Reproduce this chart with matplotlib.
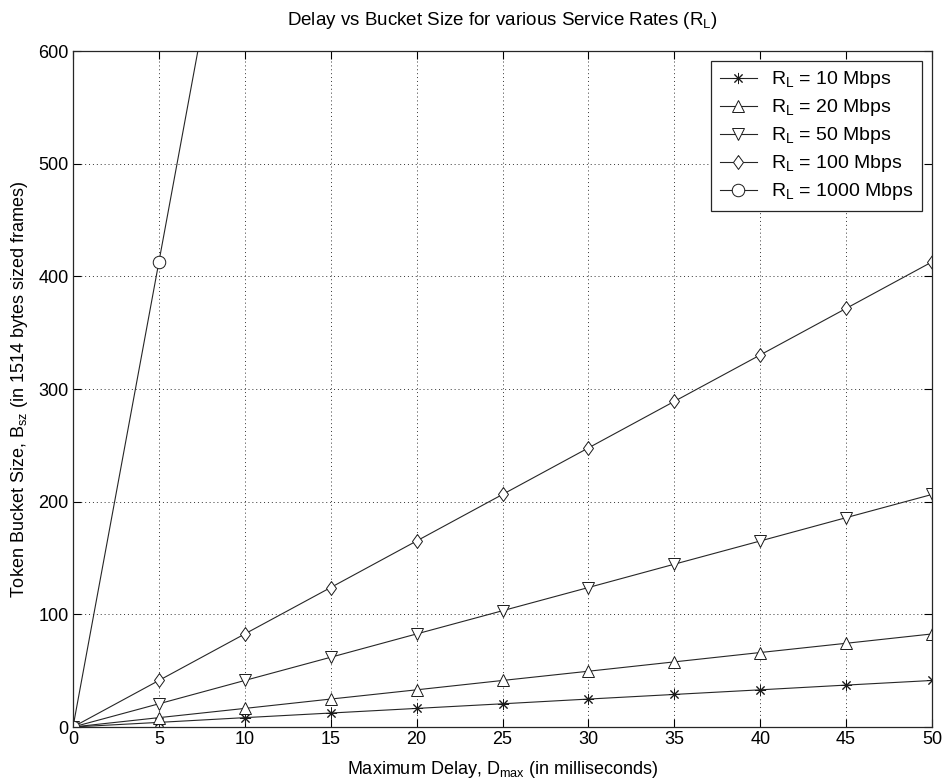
import matplotlib
matplotlib.use("Agg")
import matplotlib.pyplot as plt

plt.rcParams['font.family'] = ['Liberation Sans', 'DejaVu Sans']
plt.rcParams['mathtext.fontset'] = 'custom'
plt.rcParams['mathtext.rm'] = 'Liberation Sans'

delay_ms = [0, 5, 10, 15, 20, 25, 30, 35, 40, 45, 50]
r10 = [0, 4.1, 8.3, 12.4, 16.5, 20.6, 24.8, 28.9, 33.0, 37.2, 41.3]
r20 = [0, 8.3, 16.5, 24.8, 33.0, 41.3, 49.5, 57.8, 66.1, 74.3, 82.6]
r50 = [0, 20.6, 41.3, 61.9, 82.6, 103.2, 123.8, 144.5, 165.1, 185.8, 206.4]
r100 = [0, 41.3, 82.6, 123.8, 165.1, 206.4, 247.7, 289.0, 330.2, 371.5, 412.8]
r1000 = [0, 412.8, 825.6, 1238.4, 1651.2, 2064.0, 2476.8, 2889.6, 3302.4, 3715.2, 4128.0]
labels = ['$\\mathregular{R_L}$ = 10 Mbps', '$\\mathregular{R_L}$ = 20 Mbps',
          '$\\mathregular{R_L}$ = 50 Mbps', '$\\mathregular{R_L}$ = 100 Mbps',
          '$\\mathregular{R_L}$ = 1000 Mbps']

fig = plt.figure(figsize=(9.45, 7.82), dpi=100)
ax = fig.add_axes([73/945, 55/782, (932-73)/945, (727-51)/782])

diamond = [(0, 1), (0.72, 0), (0, -1), (-0.72, 0), (0, 1)]
series = [r10, r20, r50, r100, r1000]
markers = [(8, 2, 0), '^', 'v', diamond, 'o']
msizes = [8, 9, 9, 10, 9]
for ys, m, ms, lab in zip(series, markers, msizes, labels):
    ax.plot(delay_ms, ys, color='0.15', lw=0.8, marker=m, markersize=ms,
            markerfacecolor='white', markeredgecolor='0.1',
            markeredgewidth=0.7, label=lab)

ax.set_xlim(0, 50)
ax.set_ylim(0, 600)
ax.set_xticks(range(0, 51, 5))
ax.set_yticks(range(0, 601, 100))
ax.tick_params(direction='in', labelsize=13, length=6, width=0.8, top=True, right=True, pad=3)
ax.grid(True, linestyle=(0, (1, 3)), color='0.2', linewidth=0.7)
for s in ax.spines.values():
    s.set_linewidth(0.9)
    s.set_color('0.15')

ax.set_title('Delay vs Bucket Size for various Service Rates ($\\mathregular{R_L}$)',
             fontsize=13.5, pad=19)
ax.set_xlabel('Maximum Delay, $\\mathregular{D_{max}}$ (in milliseconds)', fontsize=13, labelpad=8)
ax.set_ylabel('Token Bucket Size, $\\mathregular{B_{sz}}$ (in 1514 bytes sized frames)', fontsize=13, labelpad=6)

leg = ax.legend(loc='upper right', fontsize=14, fancybox=False, edgecolor='0.15',
                framealpha=1, borderaxespad=0.5, handlelength=1.9, labelspacing=0.36,
                borderpad=0.45, handletextpad=0.75)
leg.get_frame().set_linewidth(0.9)

fig.savefig('out.png', dpi=100)
